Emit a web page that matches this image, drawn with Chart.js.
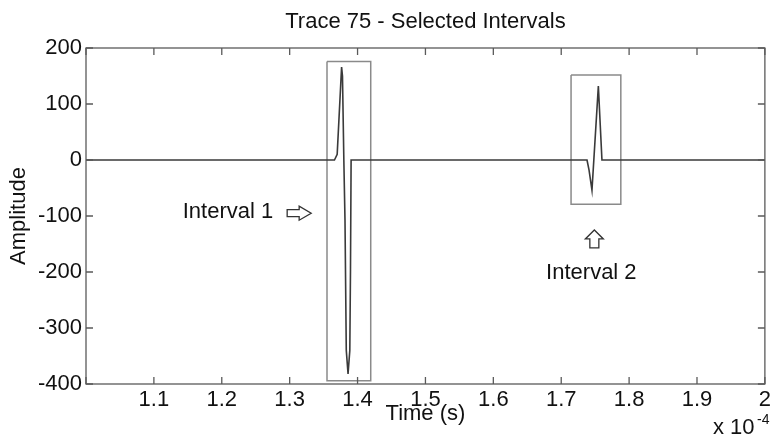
<!DOCTYPE html>
<html>
<head>
<meta charset="utf-8">
<script src="https://cdn.jsdelivr.net/npm/chart.js@4/dist/chart.umd.min.js"></script>
<style>
  html, body { margin: 0; padding: 0; background: #fff; }
</style>
</head>
<body>
<canvas id="traceChart" width="774" height="443"></canvas>
<script>
// trace 75, time in units of 1e-4 s
const traceTime = [1.0, 1.366, 1.370, 1.3765, 1.3778, 1.3798, 1.3815, 1.3834, 1.386, 1.3886, 1.3896, 1.3905,
                   1.738, 1.741, 1.7453, 1.7547, 1.760, 2.0];
const traceAmp  = [0, 0, 10, 166, 150, 0, -107, -340, -382, -340, -196, 0,
                   0, -18, -54, 132, 0, 0];

// selected intervals (boxes)
const boxLeft   = [1.355, 1.7145];
const boxRight  = [1.4194, 1.7878];
const boxTop    = [176, 152];
const boxBottom = [-394, -79];
const intervalNames = ['Interval 1', 'Interval 2'];

// tick labels
const xTickValues = [1.0, 1.1, 1.2, 1.3, 1.4, 1.5, 1.6, 1.7, 1.8, 1.9, 2.0];
const xTickLabels = ['', '1.1', '1.2', '1.3', '1.4', '1.5', '1.6', '1.7', '1.8', '1.9', '2'];
const yTickValues = [-400, -300, -200, -100, 0, 100, 200];
const yTickLabels = ['-400', '-300', '-200', '-100', '0', '100', '200'];

const FONT = "'Liberation Sans', Arial, sans-serif";
const axisColor = '#5a5a5a';

// label + arrow positions in data coords
const notes = [
    { text: intervalNames[0], x: 1.2091, y: -93, arrow: 'right', ax: 1.314, ay: -95 },
    { text: intervalNames[1], x: 1.7444, y: -201, arrow: 'up', ax: 1.7488, ay: -141 }
];

const tracePoints = traceTime.map((t, i) => ({ x: t, y: traceAmp[i] }));
const boxSets = boxLeft.map((l, i) => ({
    data: [
        { x: l, y: boxTop[i] }, { x: boxRight[i], y: boxTop[i] },
        { x: boxRight[i], y: boxBottom[i] }, { x: l, y: boxBottom[i] },
        { x: l, y: boxTop[i] }
    ],
    borderColor: '#8a8a8a',
    borderWidth: 1.5,
    pointRadius: 0,
    tension: 0
}));

// frame, inner ticks, title, notes
const decorations = {
    id: 'decorations',
    afterDatasetsDraw(chart) {
        const { ctx, chartArea: { left, right, top, bottom }, scales: { x, y } } = chart;
        ctx.save();
        ctx.strokeStyle = axisColor;
        ctx.lineWidth = 1.3;
        ctx.strokeRect(left, top, right - left, bottom - top);
        ctx.beginPath();
        xTickValues.forEach(v => {
            const px = x.getPixelForValue(v);
            ctx.moveTo(px, bottom); ctx.lineTo(px, bottom - 7);
            ctx.moveTo(px, top); ctx.lineTo(px, top + 7);
        });
        yTickValues.forEach(v => {
            const py = y.getPixelForValue(v);
            ctx.moveTo(left, py); ctx.lineTo(left + 7, py);
            ctx.moveTo(right, py); ctx.lineTo(right - 7, py);
        });
        ctx.stroke();

        ctx.fillStyle = '#111';
        ctx.textBaseline = 'middle';
        ctx.textAlign = 'center';
        ctx.font = '22px ' + FONT;
        ctx.fillText('Trace 75 - Selected Intervals', (left + right) / 2, 22);

        notes.forEach(n => {
            ctx.fillStyle = '#111';
            ctx.fillText(n.text, x.getPixelForValue(n.x), y.getPixelForValue(n.y));
            const cx = x.getPixelForValue(n.ax), cy = y.getPixelForValue(n.ay);
            ctx.beginPath();
            if (n.arrow === 'right') {
                ctx.moveTo(cx - 12, cy - 3.5); ctx.lineTo(cx, cy - 3.5); ctx.lineTo(cx, cy - 7);
                ctx.lineTo(cx + 12, cy); ctx.lineTo(cx, cy + 7); ctx.lineTo(cx, cy + 3.5);
                ctx.lineTo(cx - 12, cy + 3.5);
            } else {
                ctx.moveTo(cx - 4.5, cy + 9); ctx.lineTo(cx - 4.5, cy); ctx.lineTo(cx - 9, cy);
                ctx.lineTo(cx, cy - 9); ctx.lineTo(cx + 9, cy); ctx.lineTo(cx + 4.5, cy);
                ctx.lineTo(cx + 4.5, cy + 9);
            }
            ctx.closePath();
            ctx.strokeStyle = '#333';
            ctx.lineWidth = 1.3;
            ctx.stroke();
        });

        // axis exponent
        ctx.textAlign = 'left';
        ctx.fillStyle = '#111';
        ctx.font = '22px ' + FONT;
        ctx.fillText('x 10', 713, 428);
        ctx.font = '14px ' + FONT;
        ctx.fillText('-4', 757, 420);
        ctx.restore();
    }
};

new Chart(document.getElementById('traceChart'), {
    type: 'line',
    data: {
        datasets: [{
            data: tracePoints,
            borderColor: '#3a3a3a',
            borderWidth: 1.6,
            pointRadius: 0,
            tension: 0
        }, ...boxSets]
    },
    options: {
        responsive: false,
        animation: false,
        devicePixelRatio: 1,
        layout: { padding: { top: 48, right: 7, left: 0, bottom: 0 } },
        plugins: { legend: { display: false }, tooltip: { enabled: false }, title: { display: false } },
        scales: {
            x: {
                type: 'linear',
                min: 1, max: 2,
                afterBuildTicks: s => { s.ticks = xTickValues.map(v => ({ value: v })); },
                afterFit: s => { s.height = 59; },
                ticks: {
                    autoSkip: false, maxRotation: 0, padding: 3, color: '#111',
                    font: { family: FONT, size: 22 },
                    callback: (v, i) => xTickLabels[i]
                },
                grid: { display: false, drawTicks: false },
                border: { display: false },
                title: {
                    display: true, text: 'Time (s)', color: '#111',
                    font: { family: FONT, size: 22 }, padding: { top: 0, bottom: 16 }
                }
            },
            y: {
                min: -400, max: 200,
                afterBuildTicks: s => { s.ticks = yTickValues.map(v => ({ value: v })); },
                afterFit: s => { s.width = 86; },
                ticks: {
                    autoSkip: false, padding: 4, color: '#111',
                    font: { family: FONT, size: 22 },
                    callback: (v, i) => yTickLabels[i]
                },
                grid: { display: false, drawTicks: false },
                border: { display: false },
                title: {
                    display: true, text: 'Amplitude', color: '#111',
                    font: { family: FONT, size: 22 }, padding: { top: 6, bottom: 0 }
                }
            }
        }
    },
    plugins: [decorations]
});
</script>
</body>
</html>
